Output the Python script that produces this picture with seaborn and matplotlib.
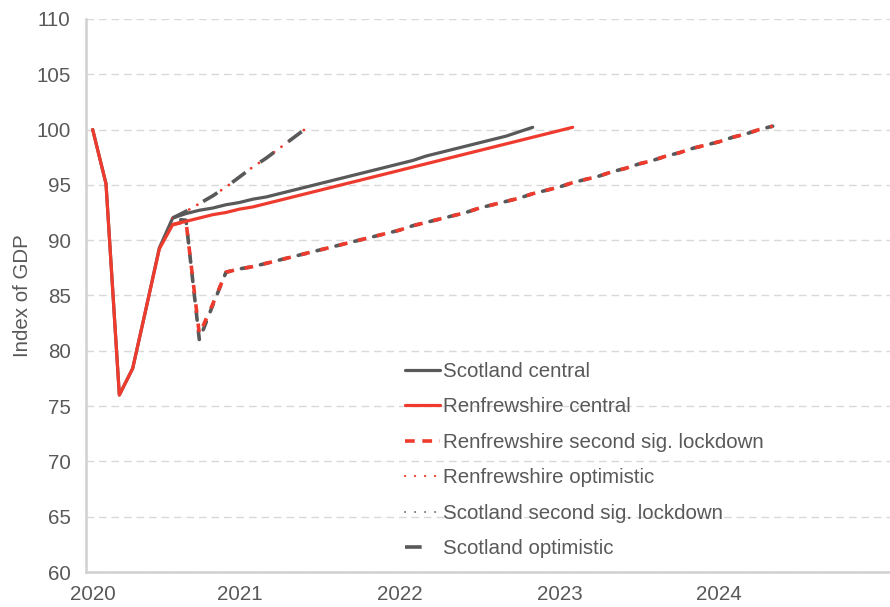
import numpy as np
import pandas as pd
import matplotlib
matplotlib.use("Agg")
import matplotlib.pyplot as plt
from matplotlib.lines import Line2D
import seaborn as sns

NA = np.nan
# ---------------- data (monthly index of GDP, month 0 = start of 2020) ----------------
scotland_central = [100.0, 95.1, 76.0, 78.4, 83.8, 89.3, 92.0, 92.4, 92.7, 92.9, 93.2, 93.4,
                    93.7, 93.9, 94.2, 94.5, 94.8, 95.1, 95.4, 95.7, 96.0, 96.3, 96.6, 96.9,
                    97.2, 97.6, 97.9, 98.2, 98.5, 98.8, 99.1, 99.4, 99.8, 100.2]
renfrewshire_central = [100.0, 95.1, 76.0, 78.4, 83.8, 89.2, 91.4, 91.7, 92.0, 92.3, 92.5, 92.8,
                        93.0, 93.3, 93.6, 93.9, 94.2, 94.5, 94.8, 95.1, 95.4, 95.7, 96.0, 96.3,
                        96.6, 96.9, 97.2, 97.5, 97.8, 98.1, 98.4, 98.7, 99.0, 99.3, 99.6, 99.9,
                        100.2]
renfrewshire_lockdown = [NA, NA, NA, NA, NA, NA, 91.4, 91.7, 81.5, 84.2, 87.1, 87.4,
                         87.6, 87.9, 88.2, 88.5, 88.8, 89.1, 89.4, 89.7, 90.0, 90.3, 90.6, 90.9,
                         91.3, 91.6, 91.9, 92.2, 92.5, 92.9, 93.2, 93.5, 93.8, 94.2, 94.5, 94.8,
                         95.2, 95.5, 95.8, 96.2, 96.5, 96.9, 97.2, 97.6, 97.9, 98.3, 98.6, 98.9,
                         99.3, 99.6, 100.0, 100.3]
scotland_lockdown = [NA, NA, NA, NA, NA, NA, 91.9, 91.8, 81.0, 84.1, 87.1, 87.4,
                     87.6, 87.9, 88.2, 88.5, 88.8, 89.1, 89.4, 89.7, 90.0, 90.3, 90.6, 90.9,
                     91.3, 91.6, 91.9, 92.2, 92.5, 92.9, 93.2, 93.5, 93.8, 94.2, 94.5, 94.8,
                     95.2, 95.5, 95.8, 96.2, 96.5, 96.9, 97.2, 97.6, 97.9, 98.3, 98.6, 98.9,
                     99.3, 99.6, 100.0, 100.3]
renfrewshire_optimistic = [NA, NA, NA, NA, NA, NA, 92.0, 92.6, 93.3, 94.0, 94.8,
                           95.7, 96.6, 97.4, 98.3, 99.2, 100.1]
scotland_optimistic = [NA, NA, NA, NA, NA, NA, 92.0, 92.6, 93.3, 94.0, 94.8,
                       95.7, 96.6, 97.4, 98.3, 99.2, 100.1]

year_labels = ["2020", "2021", "2022", "2023", "2024"]
year_tick_month = [0, 11, 23, 35, 47]
series_names = ["Scotland central", "Renfrewshire central", "Renfrewshire second sig. lockdown",
                "Renfrewshire optimistic", "Scotland second sig. lockdown", "Scotland optimistic"]

GRAY = "#595959"
RED = "#EE3B2E"
TXT = "#595959"
FS = 14.8

sns.set_style("white")
plt.rcParams["font.family"] = ["Liberation Sans", "DejaVu Sans"]
plt.rcParams["lines.scale_dashes"] = False

fig = plt.figure(figsize=(8.9, 6.07), dpi=100)
ax = fig.add_axes([86 / 890, 1 - 572 / 607, 1 - 86 / 890, (572 - 18.9) / 607])
ax.set_xlim(-0.5, 59.8)
ax.set_ylim(60, 110)


def draw(vals, **kw):
    v = np.asarray(vals, dtype=float)
    x = np.arange(len(v))
    m = ~np.isnan(v)
    sns.lineplot(x=x[m], y=v[m], ax=ax, legend=False, **kw)
    return ax.lines[-1]


def path_len_pts(vals, upto):
    v = np.asarray(vals, dtype=float)
    x = np.arange(len(v))
    m = ~np.isnan(v) & (x <= upto)
    pts = ax.transData.transform(np.column_stack([x[m], v[m]]))
    return np.sum(np.hypot(*np.diff(pts, axis=0).T)) * 72 / fig.dpi


# dash pattern for lockdown lines (points)
DASH_ON, DASH_OFF = 6.2, 7.8
LW_LOCK = 2.6
red_off = 0.0
drift = path_len_pts(scotland_lockdown, 10) - path_len_pts(renfrewshire_lockdown, 10)
gray_off = (red_off + drift) % (DASH_ON + DASH_OFF)

draw(scotland_central, color=GRAY, linewidth=2.3, solid_capstyle="round")
l = draw(scotland_lockdown, color=GRAY, linewidth=LW_LOCK, linestyle=(gray_off, (DASH_ON, DASH_OFF)))
l.set_dash_capstyle("round")
l = draw(renfrewshire_lockdown, color=RED, linewidth=LW_LOCK, linestyle=(red_off, (DASH_ON, DASH_OFF)))
l.set_dash_capstyle("butt")
l = draw(renfrewshire_optimistic, color=RED, linewidth=2.0, linestyle=(0, (0.1, 6.6)))
l.set_dash_capstyle("round")
l = draw(scotland_optimistic, color=GRAY, linewidth=2.6, linestyle=(0, (12.0, 13.0)))
l.set_dash_capstyle("butt")
draw(renfrewshire_central, color=RED, linewidth=2.3, solid_capstyle="round")

ax.set_yticks(np.arange(60, 111, 5))
ax.set_xticks(year_tick_month)
ax.set_xticklabels(year_labels)
ax.tick_params(axis="both", length=0, labelsize=FS, labelcolor=TXT)
ax.tick_params(axis="y", pad=11)
ax.tick_params(axis="x", pad=9)
ax.set_ylabel("Index of GDP", fontsize=FS, color=TXT, labelpad=3)
ax.set_xlabel("")

ax.grid(axis="y", color="#d9d9d9", linestyle=(0, (5.5, 3.5)), linewidth=1.0)
ax.grid(axis="x", visible=False)
for s in ["top", "right"]:
    ax.spines[s].set_visible(False)
for s in ["left", "bottom"]:
    ax.spines[s].set_color("#d0d0d0")
    ax.spines[s].set_linewidth(1.8)
ax.set_axisbelow(True)

h_dot_red = Line2D([], [], color=RED, linewidth=1.6, linestyle=(0, (0.1, 7.1)))
h_dot_red.set_dash_capstyle("round")
h_dot_gray = Line2D([], [], color=GRAY, linewidth=1.3, linestyle=(0, (0.1, 7.1)))
h_dot_gray.set_dash_capstyle("round")
handles = [
    Line2D([], [], color=GRAY, linewidth=2.3),
    Line2D([], [], color=RED, linewidth=2.3),
    Line2D([], [], color=RED, linewidth=2.6, linestyle=(0, (7.0, 5.5))),
    h_dot_red,
    h_dot_gray,
    Line2D([], [], color=GRAY, linewidth=2.6, linestyle=(0, (12.0, 14.0))),
]
leg = ax.legend(handles, series_names, loc="upper left",
                bbox_to_anchor=(405 / 890, 1 - 362 / 607), bbox_transform=fig.transFigure,
                frameon=False, fontsize=FS, handlelength=1.7, handletextpad=0.15,
                labelspacing=0.80, borderpad=0, borderaxespad=0)
for t in leg.get_texts():
    t.set_color(TXT)

fig.savefig("out.png", dpi=100)
